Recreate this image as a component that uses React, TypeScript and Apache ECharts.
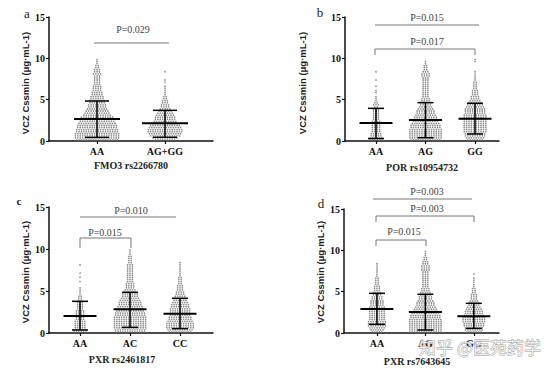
import React, { useEffect, useRef } from 'react';
import * as echarts from 'echarts';

// Dot counts per 0.25 µg/mL bin (from 0 upward)
const BIN = 0.25;

const aCats = ['AA', 'AG+GG'];
const aAA = [18,19,19,19, 18,18,17,17, 16,15,15,14, 12,11,10,9, 8,8,7,7, 6,6,5,5, 4,4,4,3, 3,3,3,3, 4,3,3,2, 2,1,1,1];
const aAGGG = [9,11,13,14, 15,15,14,13, 11,10,9,9, 8,7,6,5, 4,4,3,3, 2,2,1,1, 1,1,1,0, 1,1,0,0, 0,1,0,0];
const aMean = [2.66, 2.14];
const aLow = [0.44, 0.45];
const aHigh = [4.84, 3.71];

const bCats = ['AA', 'AG', 'GG'];
const bAA = [6,6,5,5, 4,4,4,4, 4,4,3,3, 3,3,3,3, 2,3,2,1, 1,1,0,1, 1,0,1,0, 0,1,0,0, 0,1,0,0];
const bAG = [13,14,14,14, 14,14,13,13, 12,11,10,10, 9,8,8,7, 6,5,5,4, 4,3,3,3, 3,3,3,3, 3,3,3,4, 4,3,2,2, 2,1,1,0];
const bGG = [7,8,9,9, 10,10,10,10, 10,10,10,10, 10,9,9,9, 8,7,6,5, 4,4,3,3, 3,2,2,2, 2,1,1,1, 1,1,0,0, 0,0,1,1];
const bMean = [2.18, 2.54, 2.7];
const bLow = [0.3, 0.4, 0.85];
const bHigh = [3.95, 4.64, 4.56];

const cCats = ['AA', 'AC', 'CC'];
const cAA = [6,6,5,5, 5,5,4,4, 4,4,4,3, 3,3,3,2, 2,2,1,1, 1,1,0,0, 1,0,1,0, 1,0,0,0, 1,0,0,0];
const cAC = [13,13,14,14, 14,14,14,14, 13,13,12,12, 11,10,10,9, 8,7,7,6, 5,4,4,4, 3,3,3,3, 3,3,3,3, 3,2,2,2, 2,1,1,1];
const cCC = [10,11,12,12, 12,11,10,10, 9,9,9,9, 8,8,7,6, 5,5,4,4, 3,3,3,2, 2,2,2,1, 1,1,1,1, 1,1,0,0];
const cMean = [2.02, 2.82, 2.3];
const cLow = [0.36, 0.67, 0.52];
const cHigh = [3.77, 4.84, 4.13];

const dCats = ['AA', 'AG', 'GG'];
const dAA = [5,6,7,8, 8,8,7,7, 7,7,7,7, 7,6,6,6, 5,5,4,4, 3,3,3,2, 2,2,2,1, 1,1,1,1, 1,1,0,0];
const dAG = [14,14,14,14, 14,14,14,13, 13,12,11,10, 9,8,8,7, 6,6,5,5, 4,4,3,3, 3,3,3,3, 3,3,4,4, 4,3,3,2, 2,1,1,1];
const dGG = [7,8,8,9, 9,10,10,10, 9,8,8,7, 6,5,5,4, 3,3,3,2, 2,2,1,1, 1,1,1,0, 1,0,0,0];
const dMean = [2.9, 2.54, 2.02];
const dLow = [1.05, 0.36, 0.56];
const dHigh = [4.8, 4.68, 3.59];

const yTicks = [0, 5, 10, 15];

const panels = [
  { cats: aCats, groups: [aAA, aAGGG], mean: aMean, low: aLow, high: aHigh },
  { cats: bCats, groups: [bAA, bAG, bGG], mean: bMean, low: bLow, high: bHigh },
  { cats: cCats, groups: [cAA, cAC, cCC], mean: cMean, low: cLow, high: cHigh },
  { cats: dCats, groups: [dAA, dAG, dGG], mean: dMean, low: dLow, high: dHigh },
];

// layout (pixels)
const layouts = [
  { left: 49, top: 17, width: 164, height: 124, xMin: 0.294, xMax: 2.706, meanHalf: 23, capHalf: 12 },
  { left: 345, top: 17, width: 154, height: 124, xMin: 0.374, xMax: 3.485, meanHalf: 16.5, capHalf: 8 },
  { left: 49, top: 207, width: 164, height: 126, xMin: 0.38, xMax: 3.66, meanHalf: 16.5, capHalf: 8 },
  { left: 344, top: 209, width: 155, height: 124, xMin: 0.32, xMax: 3.52, meanHalf: 16.5, capHalf: 8 },
];

const SPACING = 2.4;
const SERIF = '"Liberation Serif", "Times New Roman", serif';
const SANS = '"Liberation Sans", Arial, sans-serif';

function buildDots(counts: number[], center: number, pxPerUnit: number) {
  const pts: number[][] = [];
  counts.forEach((n, i) => {
    const y = (i + 0.5) * BIN;
    for (let k = 0; k < n; k++) {
      pts.push([center + ((k - (n - 1) / 2) * SPACING) / pxPerUnit, y]);
    }
  });
  return pts;
}

function App() {
  const ref = useRef<HTMLDivElement>(null);
  useEffect(() => {
    if (!ref.current) return;
    const chart = echarts.init(ref.current, null, { renderer: 'svg' });
    const grid: any[] = [];
    const xAxis: any[] = [];
    const yAxis: any[] = [];
    const series: any[] = [];
    panels.forEach((p, i) => {
      const L = layouts[i];
      const pxPerUnit = L.width / (L.xMax - L.xMin);
      const positions = p.cats.map((_, j) => j + 1);
      grid.push({ left: L.left, top: L.top, width: L.width, height: L.height });
      xAxis.push({
        type: 'value', gridIndex: i, min: L.xMin, max: L.xMax,
        axisLine: { show: true, lineStyle: { color: '#111', width: 1.5 } },
        axisTick: { show: true, customValues: positions, length: 3, lineStyle: { color: '#111', width: 1.2 } },
        axisLabel: {
          customValues: positions, margin: 5,
          formatter: (v: number) => p.cats[Math.round(v) - 1] || '',
          fontFamily: SERIF, fontWeight: 'bold', fontSize: 10, color: '#111',
        },
        splitLine: { show: false },
      });
      yAxis.push({
        type: 'value', gridIndex: i, min: 0, max: 15, interval: 5,
        axisLine: { show: true, lineStyle: { color: '#111', width: 1.5 } },
        axisTick: { show: true, length: 3, lineStyle: { color: '#111', width: 1.2 } },
        axisLabel: { customValues: yTicks, margin: 4, fontFamily: SERIF, fontWeight: 'bold', fontSize: 10, color: '#111' },
        splitLine: { show: false },
      });
      const dots: number[][] = [];
      p.groups.forEach((g, j) => dots.push(...buildDots(g, j + 1, pxPerUnit)));
      series.push({
        type: 'scatter', xAxisIndex: i, yAxisIndex: i, data: dots,
        symbolSize: 1.6, itemStyle: { color: '#6e6e6e' }, silent: true, z: 2,
      });
      series.push({
        type: 'custom', xAxisIndex: i, yAxisIndex: i, z: 3, silent: true,
        data: p.cats.map((_, j) => [j + 1, p.mean[j], p.low[j], p.high[j]]),
        encode: { x: 0, y: 1 },
        renderItem: (_params: any, api: any) => {
          const x = api.value(0);
          const pm = api.coord([x, api.value(1)]);
          const pl = api.coord([x, api.value(2)]);
          const ph = api.coord([x, api.value(3)]);
          const mh = L.meanHalf, ch = L.capHalf;
          const st = { stroke: '#000', lineWidth: 1.5 };
          return {
            type: 'group',
            children: [
              { type: 'line', shape: { x1: pl[0], y1: pl[1], x2: ph[0], y2: ph[1] }, style: st },
              { type: 'line', shape: { x1: pl[0] - ch, y1: pl[1], x2: pl[0] + ch, y2: pl[1] }, style: st },
              { type: 'line', shape: { x1: ph[0] - ch, y1: ph[1], x2: ph[0] + ch, y2: ph[1] }, style: st },
              { type: 'line', shape: { x1: pm[0] - mh, y1: pm[1], x2: pm[0] + mh, y2: pm[1] }, style: { stroke: '#000', lineWidth: 2 } },
            ],
          };
        },
      });
    });

    const txt = (x: number, y: number, text: string, font: any = {}) => ({
      type: 'text', x, y, silent: true,
      style: { text, align: 'center', verticalAlign: 'middle', fill: '#222', font: font.font || `10px ${SERIF}`, ...font.style },
    });
    const yName = (x: number, y: number) => ({
      type: 'text', x, y, rotation: Math.PI / 2, silent: true,
      style: { text: 'VCZ Cssmin (μg·mL-1)', align: 'center', verticalAlign: 'middle', fill: '#222', font: `bold 9.5px ${SANS}` },
    });
    const gLine = (x1: number, y1: number, x2: number, y2: number) => ({
      type: 'line', silent: true, shape: { x1, y1, x2, y2 }, style: { stroke: '#777', lineWidth: 1 },
    });
    const bracket = (x1: number, x2: number, y: number, yb: number) => ({
      type: 'polyline', silent: true,
      shape: { points: [[x1, yb], [x1, y], [x2, y], [x2, yb]] },
      style: { stroke: '#777', lineWidth: 1, fill: null },
    });
    const boldSerif = { font: `bold 10px ${SERIF}` };
    const graphic: any[] = [
      txt(27, 13, 'a', { font: `13px ${SERIF}` }),
      txt(320, 12, 'b', { font: `13px ${SERIF}` }),
      txt(19, 201, 'c', { font: `bold 11px ${SERIF}` }),
      txt(321, 203, 'd', { font: `13px ${SERIF}` }),
      yName(25, 83),
      yName(302, 83),
      yName(25, 272),
      yName(320, 272),
      txt(131, 165, 'FMO3 rs2266780', boldSerif),
      txt(422, 167, 'POR rs10954732', boldSerif),
      txt(122, 359, 'PXR rs2461817', boldSerif),
      txt(417, 361, 'PXR rs7643645', boldSerif),
      // panel a
      txt(133, 29, 'P=0.029', { style: { fill: '#444' } }),
      gLine(94, 43, 169, 43),
      // panel b
      txt(427, 17, 'P=0.015', { style: { fill: '#444' } }),
      gLine(375, 25, 479, 25),
      txt(427, 41, 'P=0.017', { style: { fill: '#444' } }),
      bracket(375, 475, 49, 55),
      // panel c
      txt(131, 210, 'P=0.010', { style: { fill: '#444' } }),
      gLine(80, 217, 176, 217),
      txt(105, 232, 'P=0.015', { style: { fill: '#444' } }),
      bracket(80, 131, 238, 248),
      // panel d
      txt(427, 191, 'P=0.003', { style: { fill: '#444' } }),
      gLine(373, 199, 472, 199),
      txt(427, 208, 'P=0.003', { style: { fill: '#444' } }),
      bracket(376, 474, 216, 222),
      txt(404, 231, 'P=0.015', { style: { fill: '#444' } }),
      bracket(376, 426, 240, 246),
      // watermark (drawn over the labels, as in the reference)
      {
        type: 'text', x: 480, y: 346, silent: true, z: 100,
        style: {
          text: '知乎 @医苑药学', align: 'center', verticalAlign: 'middle',
          font: `17px "Noto Sans CJK SC", sans-serif`,
          fill: 'rgba(255,255,255,0.8)', stroke: '#9a9a9a', lineWidth: 0.8,
        },
      },
    ];

    chart.setOption({
      animation: false,
      backgroundColor: '#fff',
      grid, xAxis, yAxis, series, graphic,
    });
    return () => chart.dispose();
  }, []);
  return <div ref={ref} style={{ position: 'absolute', left: 0, top: 0, width: 554, height: 372 }} />;
}

export default App;
